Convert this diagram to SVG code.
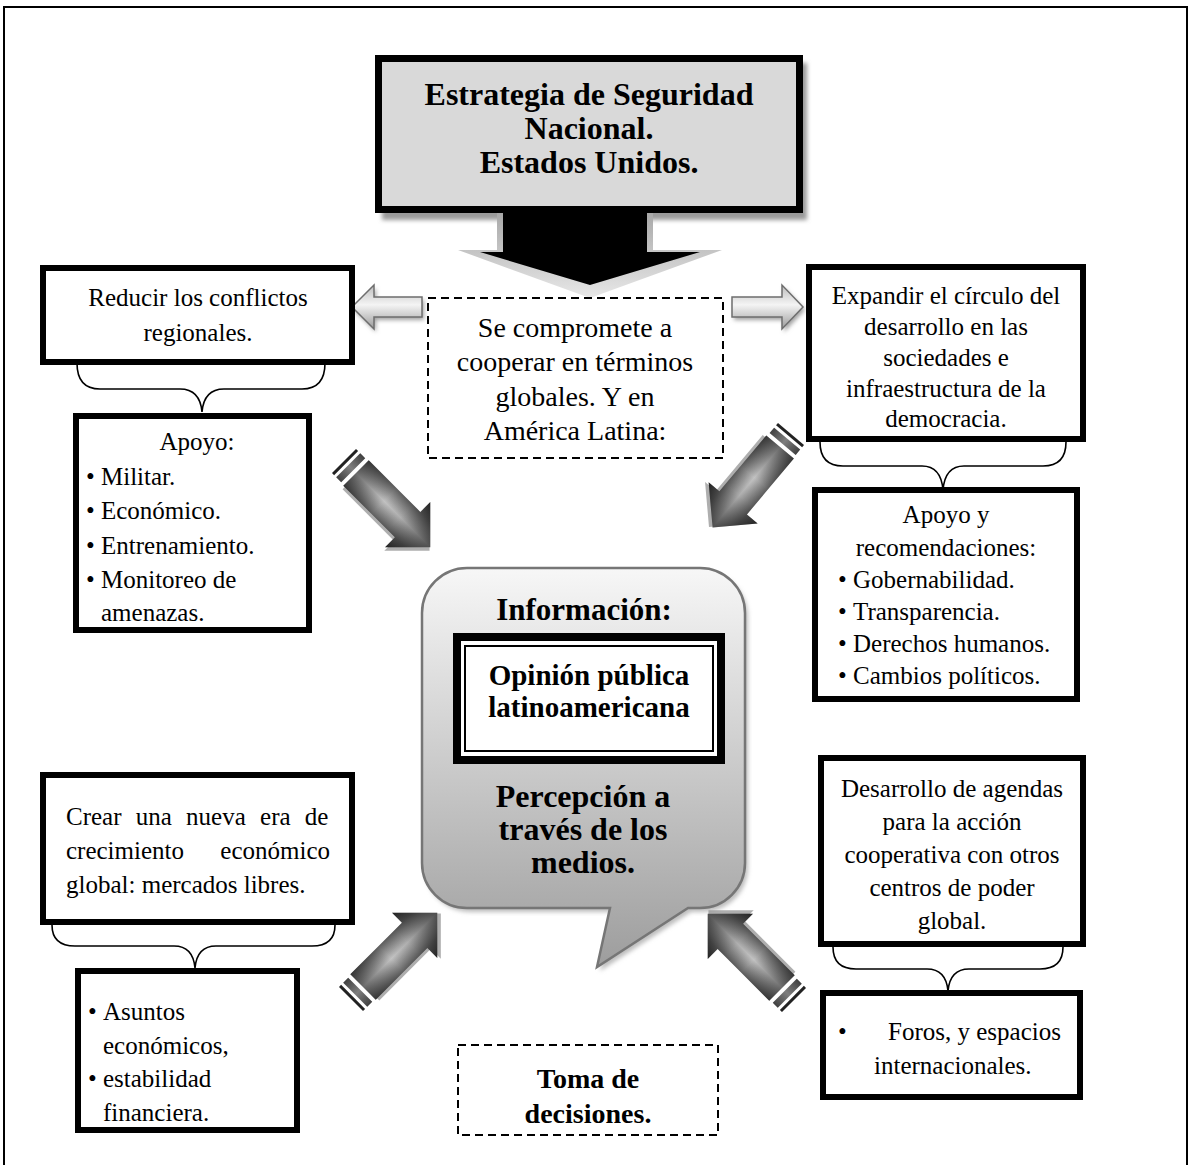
<svg xmlns="http://www.w3.org/2000/svg" width="1190" height="1165" viewBox="0 0 1190 1165">
<style>
.t{font-family:"Liberation Serif","Times New Roman",serif;font-size:25px;fill:#000}
.c{text-anchor:middle}
.b{font-weight:bold}
.box{fill:#fff;stroke:#000;stroke-width:6}
.dash{fill:#fff;stroke:#000;stroke-width:2;stroke-dasharray:8 5}
.brace{fill:none;stroke:#000;stroke-width:1.6}
</style>
<defs>
<filter id="blur" x="-20%" y="-20%" width="140%" height="140%"><feGaussianBlur stdDeviation="2"/></filter>
<linearGradient id="hArrow" x1="0" y1="0" x2="0" y2="1">
<stop offset="0" stop-color="#bdbdbd"/><stop offset="0.45" stop-color="#f4f4f4"/><stop offset="1" stop-color="#9a9a9a"/>
</linearGradient>
<linearGradient id="callout" x1="0" y1="0" x2="0" y2="1">
<stop offset="0" stop-color="#f7f7f7"/><stop offset="1" stop-color="#9d9d9d"/>
</linearGradient>
<linearGradient id="bigGray" x1="0" y1="0" x2="0" y2="1">
<stop offset="0" stop-color="#a8a8a8"/><stop offset="1" stop-color="#e8e8e8"/>
</linearGradient>
<linearGradient id="diagY" gradientUnits="userSpaceOnUse" x1="0" y1="-32" x2="0" y2="32">
<stop offset="0" stop-color="#2a2a2a"/><stop offset="0.22" stop-color="#5e5e5e"/><stop offset="0.5" stop-color="#c2c2c2"/><stop offset="0.78" stop-color="#5e5e5e"/><stop offset="1" stop-color="#2a2a2a"/>
</linearGradient>
<linearGradient id="diagX" gradientUnits="userSpaceOnUse" x1="17" y1="0" x2="122" y2="0">
<stop offset="0" stop-color="#000" stop-opacity="0.45"/><stop offset="0.38" stop-color="#000" stop-opacity="0"/><stop offset="0.6" stop-color="#000" stop-opacity="0.1"/><stop offset="1" stop-color="#000" stop-opacity="0.6"/>
</linearGradient>
<g id="diag">
<polygon points="17,-18 90,-18 90,-32 122,0 90,32 90,18 17,18" transform="translate(2,3)" fill="#8c8c8c" opacity="0.7"/>
<rect x="0" y="-17" width="3" height="34" fill="#222"/>
<rect x="6" y="-17" width="7" height="34" fill="url(#diagY)"/>
<rect x="6" y="-17" width="7" height="34" fill="#000" opacity="0.35"/>
<polygon points="17,-18 90,-18 90,-32 122,0 90,32 90,18 17,18" fill="url(#diagY)"/>
<polygon points="17,-18 90,-18 90,-32 122,0 90,32 90,18 17,18" fill="url(#diagX)"/>
</g>
</defs>

<rect width="1190" height="1165" fill="#fff"/>
<path d="M4,1170 V7 H1187 V1170" fill="none" stroke="#000" stroke-width="2"/>

<g id="node-top">
<rect x="382" y="63" width="425" height="157" fill="#9a9a9a" filter="url(#blur)"/>
<rect x="378.5" y="58.5" width="421" height="151" fill="#d9d9d9" stroke="#000" stroke-width="7"/>
<text class="t c b" x="589" y="105" style="font-size:32px">Estrategia de Seguridad</text>
<text class="t c b" x="589" y="139" style="font-size:32px">Nacional.</text>
<text class="t c b" x="589" y="173" style="font-size:32px">Estados Unidos.</text>
</g>

<g id="connectors">
<polygon points="497,213 653,213 653,250 722,250 590,298 458,250 497,250" fill="url(#bigGray)"/>
<polygon points="503,213 647,213 647,252 700,252 590,285 480,252 503,252" fill="#000"/>
<polygon points="352,307 374,285 374,297 422,297 422,317 374,317 374,329" transform="translate(2,3)" fill="#a0a0a0" filter="url(#blur)"/>
<polygon points="352,307 374,285 374,297 422,297 422,317 374,317 374,329" fill="url(#hArrow)" stroke="#6e6e6e" stroke-width="1.5"/>
<polygon points="732,297 782,297 782,285 803,307 782,329 782,317 732,317" transform="translate(2,3)" fill="#a0a0a0" filter="url(#blur)"/>
<polygon points="732,297 782,297 782,285 803,307 782,329 782,317 732,317" fill="url(#hArrow)" stroke="#6e6e6e" stroke-width="1.5"/>
<path class="brace" d="M77,363 Q77,389 100,389 L180,389 Q200,389 202,412 Q204,389 224,389 L302,389 Q325,389 325,363"/>
<path class="brace" d="M820,442 Q820,466 843,466 L922,466 Q941,466 943,490 Q945,466 964,466 L1043,466 Q1066,466 1066,442"/>
<path class="brace" d="M52,925 Q52,946 75,946 L174,946 Q193,946 195,968 Q197,946 216,946 L312,946 Q335,946 335,925"/>
<path class="brace" d="M833,947 Q833,969 856,969 L927,969 Q946,969 948,991 Q950,969 969,969 L1040,969 Q1063,969 1063,947"/>
</g>

<g id="node-reducir">
<rect class="box" x="43" y="268" width="309" height="94"/>
<text class="t c" x="198" y="306">Reducir los conflictos</text>
<text class="t c" x="198" y="341">regionales.</text>
</g>

<g id="node-apoyo">
<rect class="box" x="76" y="416" width="233" height="214"/>
<text class="t c" x="197" y="450">Apoyo:</text>
<text class="t" x="86" y="485">•</text><text class="t" x="101" y="485">Militar.</text>
<text class="t" x="86" y="519">•</text><text class="t" x="101" y="519">Económico.</text>
<text class="t" x="86" y="554">•</text><text class="t" x="101" y="554">Entrenamiento.</text>
<text class="t" x="86" y="588">•</text><text class="t" x="101" y="588">Monitoreo de</text>
<text class="t" x="101" y="621">amenazas.</text>
</g>

<g id="node-coopera">
<rect class="dash" x="428" y="298" width="295" height="160"/>
<text class="t c" x="575" y="337" style="font-size:28px">Se compromete a</text>
<text class="t c" x="575" y="371" style="font-size:28px">cooperar en términos</text>
<text class="t c" x="575" y="406" style="font-size:28px">globales. Y en</text>
<text class="t c" x="575" y="440" style="font-size:28px">América Latina:</text>
</g>

<g id="node-expandir">
<rect class="box" x="809" y="267" width="274" height="172"/>
<text class="t c" x="946" y="304">Expandir el círculo del</text>
<text class="t c" x="946" y="335">desarrollo en las</text>
<text class="t c" x="946" y="366">sociedades e</text>
<text class="t c" x="946" y="397">infraestructura de la</text>
<text class="t c" x="946" y="427">democracia.</text>
</g>

<g id="node-recomend">
<rect class="box" x="815" y="490" width="262" height="209"/>
<text class="t c" x="946" y="523">Apoyo y</text>
<text class="t c" x="946" y="556">recomendaciones:</text>
<text class="t" x="838" y="588">•</text><text class="t" x="853" y="588">Gobernabilidad.</text>
<text class="t" x="838" y="620">•</text><text class="t" x="853" y="620">Transparencia.</text>
<text class="t" x="838" y="652">•</text><text class="t" x="853" y="652">Derechos humanos.</text>
<text class="t" x="838" y="684">•</text><text class="t" x="853" y="684">Cambios políticos.</text>
</g>

<g id="node-info">
<path d="M467,568 H700 A45,45 0 0 1 745,613 V863 A45,45 0 0 1 700,908 L688,908 L597,967 L610,908 H467 A45,45 0 0 1 422,863 V613 A45,45 0 0 1 467,568 Z" transform="translate(3,4)" fill="#bdbdbd" filter="url(#blur)"/>
<path d="M467,568 H700 A45,45 0 0 1 745,613 V863 A45,45 0 0 1 700,908 L688,908 L597,967 L610,908 H467 A45,45 0 0 1 422,863 V613 A45,45 0 0 1 467,568 Z" fill="url(#callout)" stroke="#767676" stroke-width="2.5"/>
<text class="t c b" x="584" y="620" style="font-size:31px">Información:</text>
<rect x="457" y="637" width="264" height="123" fill="#fff" stroke="#000" stroke-width="8"/>
<rect x="465" y="646" width="248" height="105" fill="#fff" stroke="#000" stroke-width="2"/>
<text class="t c b" x="589" y="685" style="font-size:29px">Opinión pública</text>
<text class="t c b" x="589" y="717" style="font-size:29px">latinoamericana</text>
<text class="t c b" x="583" y="807" style="font-size:32px">Percepción a</text>
<text class="t c b" x="583" y="840" style="font-size:32px">través de los</text>
<text class="t c b" x="583" y="873" style="font-size:32px">medios.</text>
</g>

<g id="node-crear">
<rect class="box" x="43" y="775" width="309" height="147"/>
<text class="t" x="66" y="825" style="word-spacing:8px">Crear una nueva era de</text>
<text class="t" x="66" y="859">crecimiento</text>
<text class="t" x="330" y="859" text-anchor="end">económico</text>
<text class="t" x="66" y="893">global: mercados libres.</text>
</g>

<g id="node-asuntos">
<rect class="box" x="78" y="971" width="219" height="159"/>
<text class="t" x="88" y="1020">•</text><text class="t" x="103" y="1020">Asuntos</text>
<text class="t" x="103" y="1054">económicos,</text>
<text class="t" x="88" y="1087">•</text><text class="t" x="103" y="1087">estabilidad</text>
<text class="t" x="103" y="1121">financiera.</text>
</g>

<g id="node-desarrollo">
<rect class="box" x="821" y="758" width="262" height="186"/>
<text class="t c" x="952" y="797">Desarrollo de agendas</text>
<text class="t c" x="952" y="830">para la acción</text>
<text class="t c" x="952" y="863">cooperativa con otros</text>
<text class="t c" x="952" y="896">centros de poder</text>
<text class="t c" x="952" y="929">global.</text>
</g>

<g id="node-foros">
<rect class="box" x="823" y="993" width="257" height="104"/>
<text class="t" x="838" y="1040">•</text><text class="t" x="888" y="1040">Foros, y espacios</text>
<text class="t" x="874" y="1074">internacionales.</text>
</g>

<g id="node-toma">
<rect class="dash" x="458" y="1045" width="260" height="90"/>
<text class="t c b" x="588" y="1088" style="font-size:28px">Toma de</text>
<text class="t c b" x="588" y="1123" style="font-size:28px">decisiones.</text>
</g>

<g id="diagonal-arrows">
<use href="#diag" transform="translate(344,461) rotate(45)"/>
<use href="#diag" transform="translate(791,434) rotate(130)"/>
<use href="#diag" transform="translate(351,999) rotate(-45)"/>
<use href="#diag" transform="translate(794,1000) rotate(-135)"/>
</g>
</svg>
